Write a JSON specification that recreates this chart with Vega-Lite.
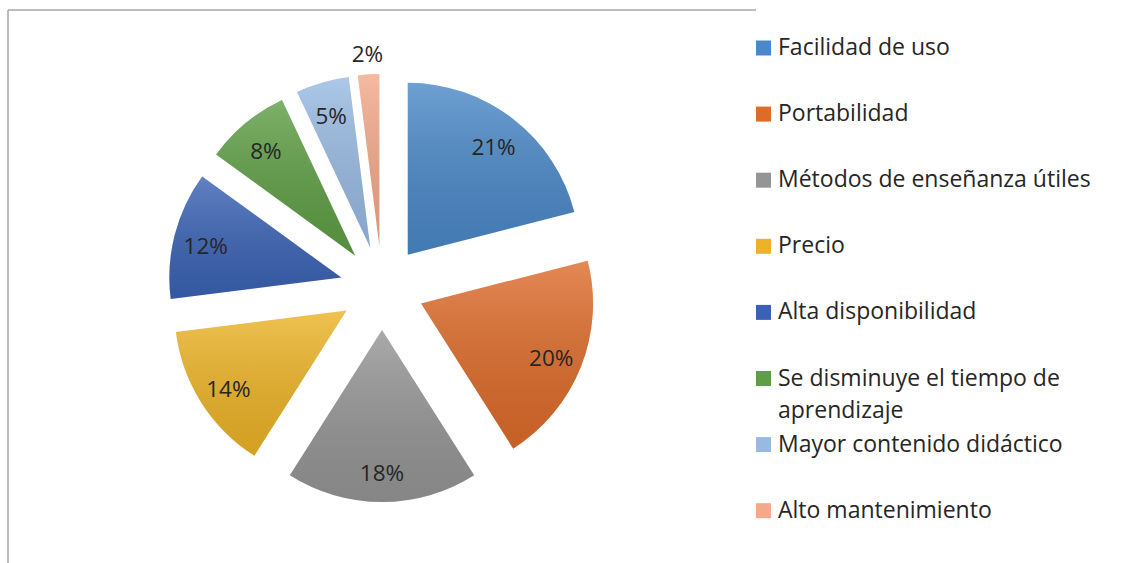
{
  "$schema": "https://vega.github.io/schema/vega-lite/v6.json",
  "width": 748,
  "height": 556,
  "autosize": {"type": "none"},
  "padding": {"left": 8, "top": 10, "right": 369, "bottom": 0},
  "background": "white",
  "view": {"stroke": "#A6A6A6", "strokeWidth": 1.5, "strokeDash": [748, 1304, 556, 0]},
  "config": {
    "font": "Open Sans"
  },
  "data": {
    "values": [
      {"cat": "Facilidad de uso", "pct": 21},
      {"cat": "Portabilidad", "pct": 20},
      {"cat": "Métodos de enseñanza útiles", "pct": 18},
      {"cat": "Precio", "pct": 14},
      {"cat": "Alta disponibilidad", "pct": 12},
      {"cat": "Se disminuye el tiempo de aprendizaje", "pct": 8},
      {"cat": "Mayor contenido didáctico", "pct": 5},
      {"cat": "Alto mantenimiento", "pct": 2}
    ]
  },
  "transform": [
    {"window": [{"op": "sum", "field": "pct", "as": "cum"}], "sort": [{"field": "pct", "order": "descending"}], "frame": [null, 0]},
    {"joinaggregate": [{"op": "sum", "field": "pct", "as": "tot"}]},
    {"calculate": "datum.cum - datum.pct", "as": "start"},
    {"calculate": "datum.cum - datum.pct/2", "as": "midp"},
    {"calculate": "2*PI*datum.midp/datum.tot", "as": "mid"},
    {"calculate": "42*sin(datum.mid)", "as": "dx"},
    {"calculate": "-42*cos(datum.mid)", "as": "dy"},
    {"calculate": "datum.pct + '%'", "as": "lbl"}
  ],
  "encoding": {
    "xOffset": {"field": "dx", "type": "quantitative", "scale": null},
    "yOffset": {"field": "dy", "type": "quantitative", "scale": null}
  },
  "layer": [
    {
      "mark": {"type": "arc", "outerRadius": 172},
      "encoding": {
        "theta": {"field": "start", "type": "quantitative", "stack": null, "scale": {"domain": [0, 100]}},
        "theta2": {"field": "cum"},
        "color": {
          "field": "cat",
          "type": "nominal",
          "scale": {
            "domain": ["Facilidad de uso", "Portabilidad", "Métodos de enseñanza útiles", "Precio", "Alta disponibilidad", "Se disminuye el tiempo de aprendizaje", "Mayor contenido didáctico", "Alto mantenimiento"],
            "range": ["#4A88C7", "#DD6B2A", "#959595", "#ECB326", "#3A62B4", "#5E9E45", "#98BAE2", "#F3A98A"]
          },
          "legend": {
            "title": null,
            "orient": "none",
            "legendX": 744,
            "legendY": 26.5,
            "padding": 0,
            "rowPadding": 10.1,
            "symbolType": "square",
            "symbolSize": 225,
            "symbolStrokeWidth": 0,
            "labelFont": "Open Sans",
            "labelFontSize": 23,
            "labelColor": "#262626",
            "labelOffset": 3,
            "labelLimit": 400,
            "labelExpr": "datum.label == 'Se disminuye el tiempo de aprendizaje' ? ['Se disminuye el tiempo de', 'aprendizaje'] : [datum.label, '']",
            "encode": {
              "labels": {
                "update": {
                  "lineHeight": {"value": 32}
                }
              }
            }
          }
        }
      }
    },
    {
      "mark": {
        "type": "arc",
        "outerRadius": 172,
        "fill": {
          "gradient": "linear", "x1": 0, "y1": 0, "x2": 0, "y2": 1,
          "stops": [
            {"offset": 0, "color": "rgba(255,255,255,0.2)"},
            {"offset": 1, "color": "rgba(0,0,0,0.1)"}
          ]
        }
      },
      "encoding": {
        "theta": {"field": "start", "type": "quantitative", "stack": null, "scale": {"domain": [0, 100]}},
        "theta2": {"field": "cum"}
      }
    },
    {
      "transform": [{"filter": "datum.pct >= 3"}],
      "mark": {"type": "text", "font": "Open Sans", "fontSize": 22.5, "color": "#262626", "radius": 140, "dy": 4},
      "encoding": {
        "theta": {"field": "midp", "type": "quantitative", "stack": null, "scale": {"domain": [0, 100]}},
        "text": {"field": "lbl", "type": "nominal"}
      }
    },
    {
      "transform": [{"filter": "datum.pct < 3"}],
      "mark": {"type": "text", "font": "Open Sans", "fontSize": 22.5, "color": "#262626", "radius": 191, "dy": 0},
      "encoding": {
        "theta": {"field": "midp", "type": "quantitative", "stack": null, "scale": {"domain": [0, 100]}},
        "text": {"field": "lbl", "type": "nominal"}
      }
    }
  ]
}
